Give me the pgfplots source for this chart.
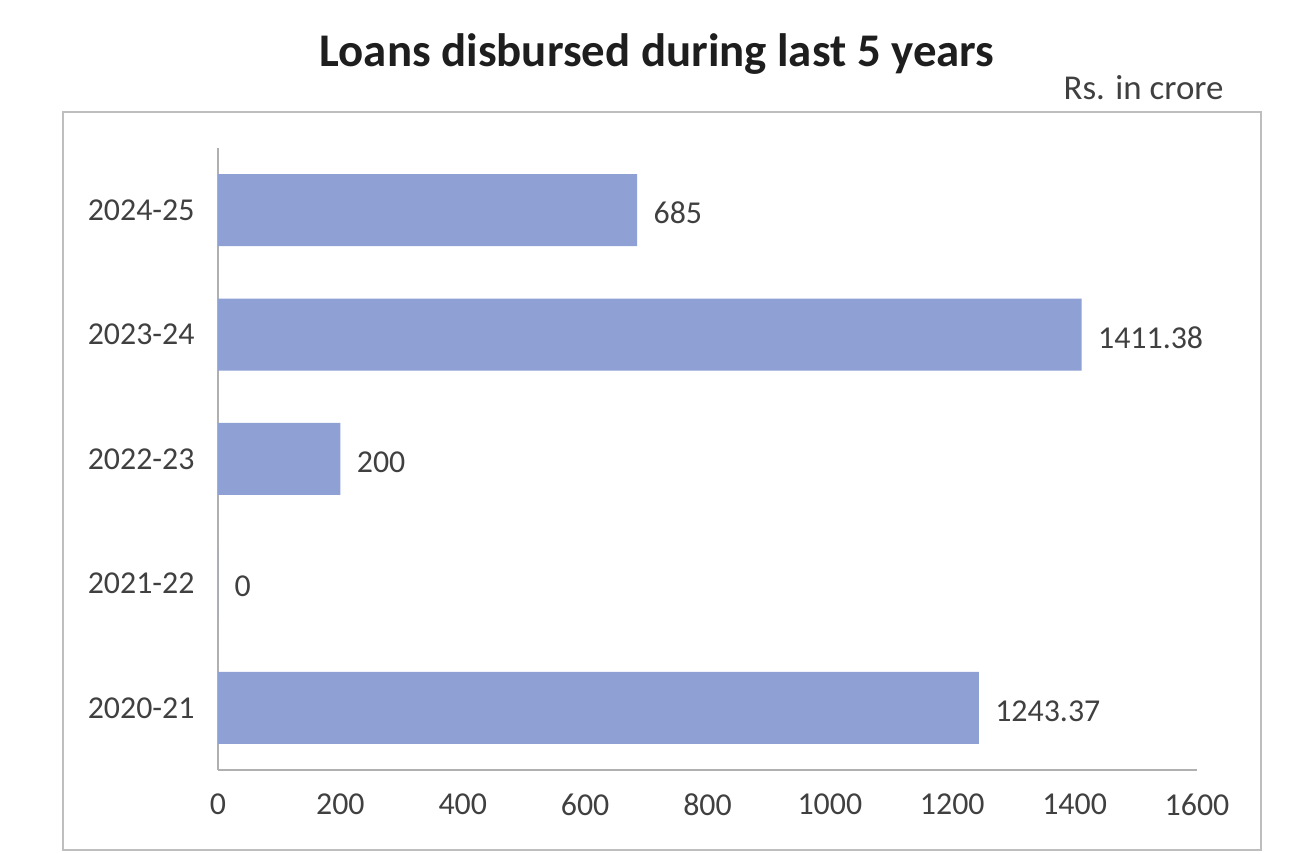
\documentclass[border=0pt]{standalone}
\usepackage{pgfplots}
\pgfplotsset{compat=1.18}
\usepackage{fontspec}
\setmainfont{Carlito}
\definecolor{barcol}{RGB}{142,160,212}
\definecolor{txt}{RGB}{64,64,64}
\definecolor{axgray}{RGB}{176,176,176}
\definecolor{framegray}{RGB}{190,190,190}
\begin{document}
\begin{tikzpicture}[x=1bp,y=1bp]
\path[use as bounding box] (0,0) rectangle (1292,854);
\draw[framegray, line width=2.5bp] (63,4) rectangle (1261,742);
\node[font=\fontsize{47}{56}\selectfont\bfseries, text={rgb,255:red,30;green,30;blue,30}] at (657,800) {Loans disbursed during last 5 years};
\node[anchor=east, font=\fontsize{35}{42}\selectfont, text=txt] at (1227,766) {Rs. in crore};
\begin{axis}[
  at={(218bp,84bp)}, anchor=south west,
  scale only axis, width=979bp, height=622bp,
  xmin=0, xmax=1600, ymin=-0.5, ymax=4.5,
  axis x line*=bottom, axis y line*=left,
  axis line style={axgray, line width=2.5bp, -},
  xtick={0,200,...,1600},
  ytick={0,1,2,3,4},
  yticklabels={2020-21,2021-22,2022-23,2023-24,2024-25},
  major tick length=0pt,
  /pgf/number format/assume math mode=true,
  /pgf/number format/1000 sep={},
  ticklabel style={font=\fontsize{32}{38}\selectfont, text=txt},
  xticklabel style={yshift=-20bp},
  yticklabel style={xshift=-20bp},
  xbar, bar width=72bp,
  point meta=explicit symbolic,
  nodes near coords,
  every node near coord/.append style={anchor=west, xshift=13bp, yshift=-3bp, font=\fontsize{32}{38}\selectfont, text=txt},
  clip=false,
]
\addplot[fill=barcol, draw=none] coordinates {
  (1243.37,0) [1243.37]
  (0,1) [0]
  (200,2) [200]
  (1411.38,3) [1411.38]
  (685,4) [685]
};
\end{axis}
\end{tikzpicture}
\end{document}
